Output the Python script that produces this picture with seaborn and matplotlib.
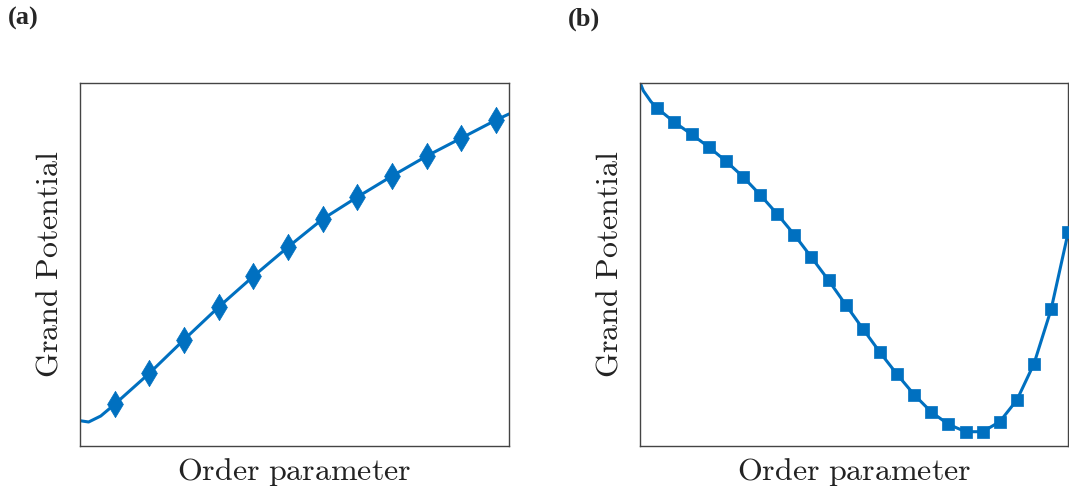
import matplotlib
matplotlib.use("Agg")
import matplotlib.pyplot as plt
import seaborn as sns

# Panel (a): grand potential along the order parameter (diamond samples)
order_a = [0.0, 0.25, 0.6, 1, 2, 3, 4, 5, 6, 7, 8, 9, 10, 11, 12, 12.37]
omega_a = [0.253, 0.24, 0.30, 0.417, 0.727, 1.063, 1.39, 1.697, 1.99, 2.27,
           2.49, 2.70, 2.90, 3.08, 3.26, 3.32]

# Panel (b): grand potential with a minimum (square samples)
order_b = [0.0, 0.18, 0.63] + list(range(1, 26))
omega_b = [3.63, 3.553, 3.443,
           3.377, 3.237, 3.117, 2.99, 2.85, 2.693, 2.513, 2.32, 2.113,
           1.887, 1.657, 1.413, 1.173, 0.937, 0.717, 0.513, 0.34, 0.217,
           0.143, 0.143, 0.243, 0.46, 0.823, 1.367, 2.14]

sample_a = slice(3, -1)
sample_b = slice(3, None)

xlabel = r"$\mathrm{Order\ parameter}$"
ylabel = r"$\mathrm{Grand\ Potential}$"

sns.set_theme(style="white")
plt.rcParams["mathtext.fontset"] = "cm"
plt.rcParams["font.family"] = ["DejaVu Serif"]

color = "#0070C0"
fig = plt.figure(figsize=(10.69, 4.90), dpi=100)
ax_a = fig.add_axes([0.0748, 0.0898, 0.4013, 0.7408])
ax_b = fig.add_axes([0.5989, 0.0898, 0.4004, 0.7408])

sns.lineplot(x=order_a, y=omega_a, ax=ax_a, color=color, linewidth=2.2,
             sort=False, estimator=None)
sns.scatterplot(x=order_a[sample_a], y=omega_a[sample_a], ax=ax_a,
                marker="d", s=180, color=color, edgecolor=color,
                linewidth=0.5, zorder=3)

sns.lineplot(x=order_b, y=omega_b, ax=ax_b, color=color, linewidth=2.2,
             sort=False, estimator=None)
sns.scatterplot(x=order_b[sample_b], y=omega_b[sample_b], ax=ax_b,
                marker="s", s=70, color=color, edgecolor=color,
                linewidth=0.5, zorder=3)

ax_a.set_xlim(0, 12.37)
ax_b.set_xlim(0, 25)
for ax in (ax_a, ax_b):
    ax.set_ylim(0, 3.63)
    ax.set_xticks([])
    ax.set_yticks([])
    ax.set_xlabel(xlabel, fontsize=23, labelpad=7, color="#222222")
    ax.set_ylabel(ylabel, fontsize=23, labelpad=11, color="#222222")
    for side in ax.spines.values():
        side.set_color("#444444")
        side.set_linewidth(1.0)

fig.text(0.007, 0.985, "(a)", fontsize=19, fontweight="bold",
         family=["Liberation Serif"], va="top", ha="left")
fig.text(0.531, 0.985, "(b)", fontsize=19, fontweight="bold",
         family=["Liberation Serif"], va="top", ha="left")

fig.savefig("out.png", dpi=100)
